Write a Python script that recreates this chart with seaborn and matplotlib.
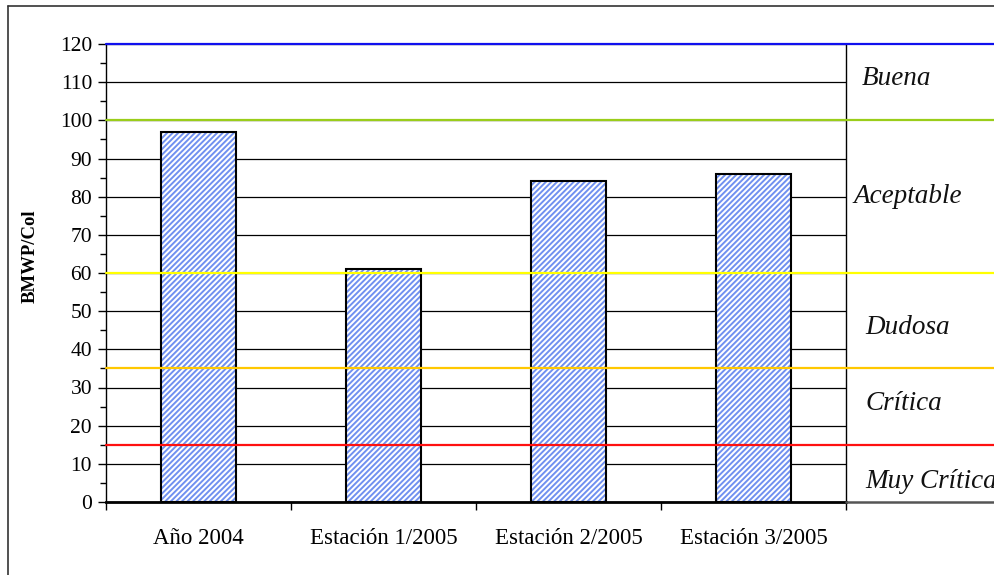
import matplotlib
matplotlib.use("Agg")
import matplotlib.pyplot as plt
from matplotlib.lines import Line2D
from matplotlib.patches import Rectangle
from matplotlib.ticker import MultipleLocator, FixedLocator
import seaborn as sns
import pandas as pd

# BMWP/Col index per sampling point
categories = ["Año 2004", "Estación 1/2005", "Estación 2/2005", "Estación 3/2005"]
values = [97, 61, 84, 86]

# Water quality class limits and their colours
limits = [120, 100, 60, 35, 15]
limit_colors = ["#1010ee", "#9acd1a", "#ffff00", "#ffc800", "#ff1010"]

# Class names and where they sit on the index scale
classes = ["Buena", "Aceptable", "Dudosa", "Crítica", "Muy Crítica"]
class_y = [111, 80, 45.8, 25.7, 5.3]
class_x = [1.021, 1.0095, 1.0257, 1.0257, 1.0257]

sns.set_theme(style="white")
plt.rcParams["font.family"] = ["Liberation Serif", "DejaVu Serif"]
plt.rcParams["hatch.linewidth"] = 1.4

fig = plt.figure(figsize=(9.95, 5.75), dpi=100)
fig.patch.set_facecolor("white")
ax = fig.add_axes([106 / 995, 1 - 502 / 575, 740 / 995, 458 / 575])

df = pd.DataFrame({"estacion": categories, "bmwp": values})
sns.barplot(data=df, x="estacion", y="bmwp", ax=ax, width=0.41,
            color="white", linewidth=0, zorder=2)
for p in list(ax.patches):
    p.set_facecolor("white")
    p.set_edgecolor("#7090f0")
    p.set_hatch("//////")
    p.set_linewidth(0)
    ax.add_patch(Rectangle(p.get_xy(), p.get_width(), p.get_height(),
                           fill=False, edgecolor="black", linewidth=1.5,
                           zorder=3))

ax.set_xlim(-0.5, len(categories) - 0.5)
ax.set_ylim(0, 120)

# horizontal grid
ax.set_axisbelow(True)
ax.yaxis.grid(True, color="black", linewidth=0.9)
ax.xaxis.grid(False)

# class limit lines, running past the plot into the label column
for y, c in zip(limits, limit_colors):
    ax.plot([0, 1.2], [y, y], transform=ax.get_yaxis_transform(),
            color=c, linewidth=1.6, clip_on=False, zorder=4)
ax.plot([1.0, 1.2], [0, 0], transform=ax.get_yaxis_transform(),
        color="#555555", linewidth=1.8, clip_on=False, zorder=4)

for name, y, x in zip(classes, class_y, class_x):
    ax.text(x, y, name, transform=ax.get_yaxis_transform(),
            fontsize=19.5, fontstyle="italic", va="center", ha="left",
            color="#111111")

# spines
ax.spines["top"].set_visible(False)
ax.spines["left"].set_color("black")
ax.spines["left"].set_linewidth(1.0)
ax.spines["right"].set_color("black")
ax.spines["right"].set_linewidth(1.0)
ax.spines["bottom"].set_color("black")
ax.spines["bottom"].set_linewidth(2.0)

# ticks
ax.yaxis.set_major_locator(MultipleLocator(10))
ax.yaxis.set_minor_locator(MultipleLocator(5))
ax.tick_params(axis="y", which="major", left=True, length=6, width=1,
               color="black", labelsize=15.5, pad=4, labelcolor="black")
ax.tick_params(axis="y", which="minor", left=True, length=4, width=1,
               color="black")
ax.xaxis.set_minor_locator(FixedLocator([i - 0.5 for i in range(len(categories) + 1)]))
ax.tick_params(axis="x", which="major", bottom=False, labelsize=16.5,
               pad=13, labelcolor="black")
ax.tick_params(axis="x", which="minor", bottom=True, length=6, width=1,
               color="black")

ax.set_xlabel("")
ax.set_ylabel("BMWP/Col", fontsize=13.5, fontweight="bold", color="black")
ax.yaxis.set_label_coords(-0.091, 0.537)

# chart frame
fig.add_artist(Line2D([8 / 995, 8 / 995], [0, 1 - 6 / 575],
                      transform=fig.transFigure, color="#333333", linewidth=1.2))
fig.add_artist(Line2D([8 / 995, 1], [1 - 6 / 575, 1 - 6 / 575],
                      transform=fig.transFigure, color="#333333", linewidth=1.2))

fig.savefig("out.png", dpi=100, facecolor="white")
